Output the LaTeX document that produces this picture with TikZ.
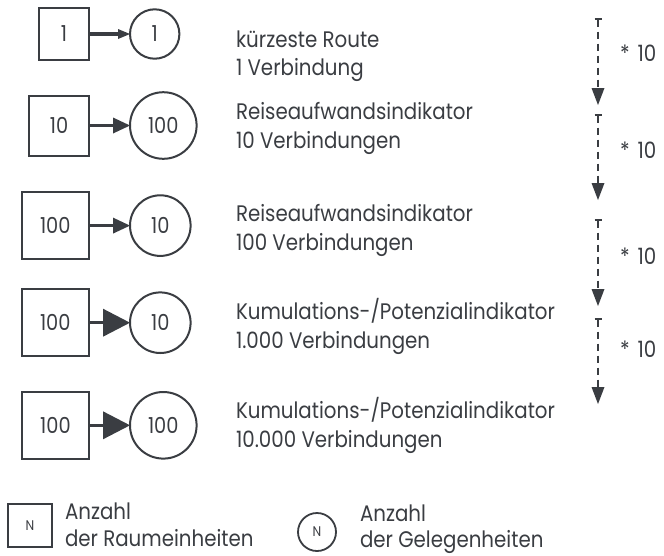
\documentclass[tikz,border=0pt]{standalone}
\usepackage{fontspec}
\setmainfont{Poppins}[FakeStretch=0.88]
\usetikzlibrary{arrows.meta}
\definecolor{ink}{RGB}{58,61,66}

\begin{document}
\begin{tikzpicture}[x=1pt,y=-1pt,
  every node/.style={text=ink, inner sep=0pt, outer sep=0pt},
  txt/.style={anchor=base west, font=\fontsize{22.5}{27}\selectfont},
  area/.style n args={2}{draw=ink, line width=2pt, rectangle,
    minimum width=#1, minimum height=#2, font=\fontsize{22}{26}\selectfont},
  opp/.style={draw=ink, line width=2pt, circle, minimum size=#1,
    font=\fontsize{22}{26}\selectfont},
  link/.style={draw=ink, line width=3.4pt},
  tipS/.style={-{Triangle[length=12pt,width=10pt,line width=0pt]}},
  tipM/.style={-{Triangle[length=17pt,width=16pt,line width=0pt]}},
  tipL/.style={-{Triangle[length=27pt,width=28pt,line width=0pt]}},
  step10/.style={draw=ink, line width=2pt, dash pattern=on 7pt off 5pt,
    {Bar[width=7pt,line width=2pt]}-{Triangle[length=17pt,width=13pt,line width=0pt]}},
  factor/.style={anchor=base west, font=\fontsize{22.5}{27}\selectfont}
]
\useasboundingbox (0,0) rectangle (664,555);

% row 1: shortest route
\node[area={50pt}{52pt}] (s1) at (64,34) {1};
\node[opp=49.4pt] (c1) at (154.7,34) {1};
\draw[link,tipS] (s1) -- (c1);
\node[txt] (a1) at (236,47) {kürzeste Route};
\node[txt] (b1) at (236,75) {1 Verbindung};

% row 2
\node[area={60pt}{60pt}] (s2) at (59,125.5) {10};
\node[opp=66.6pt] (c2) at (163.3,125.5) {100};
\draw[link,tipM] (s2) -- (c2);
\node[txt] (a2) at (236,119) {Reiseaufwandsindikator};
\node[txt] (b2) at (236,148) {10 Verbindungen};

% row 3
\node[area={67pt}{67pt}] (s3) at (55.3,225.6) {100};
\node[opp=60.6pt] (c3) at (160.3,225.6) {10};
\draw[link,tipM] (s3) -- (c3);
\node[txt] (a3) at (236,221) {Reiseaufwandsindikator};
\node[txt] (b3) at (236,250) {100 Verbindungen};

% row 4
\node[area={67pt}{67pt}] (s4) at (55.3,322.7) {100};
\node[opp=60.6pt] (c4) at (160.3,322.7) {10};
\draw[link,tipL] (s4) -- (c4);
\node[txt] (a4) at (236,319) {Kumulations-/Potenzialindikator};
\node[txt] (b4) at (236,348) {1.000 Verbindungen};

% row 5
\node[area={67pt}{67pt}] (s5) at (55.5,425.3) {100};
\node[opp=66.6pt] (c5) at (163.3,425.3) {100};
\draw[link,tipL] (s5) -- (c5);
\node[txt] (a5) at (236,418) {Kumulations-/Potenzialindikator};
\node[txt] (b5) at (236,447) {10.000 Verbindungen};

% growth factors between rows
\coordinate (t1) at (598,18);  \coordinate (e1) at (598,105);
\coordinate (t2) at (598,114); \coordinate (e2) at (598,200);
\coordinate (t3) at (598,219); \coordinate (e3) at (598,306);
\coordinate (t4) at (598,318); \coordinate (e4) at (598,404);
\draw[step10] (t1) -- (e1);
\draw[step10] (t2) -- (e2);
\draw[step10] (t3) -- (e3);
\draw[step10] (t4) -- (e4);
\node[factor] (f1) at (620,61) {*\hspace{8pt}10};
\node[factor] (f2) at (620,158) {*\hspace{8pt}10};
\node[factor] (f3) at (620,264) {*\hspace{8pt}10};
\node[factor] (f4) at (620,357) {*\hspace{8pt}10};

% legend
\node[draw=ink, line width=1.8pt, minimum width=44pt, minimum height=43pt,
  font=\fontsize{14}{16}\selectfont] (ls) at (30,525.5) {N};
\node[txt] (la1) at (65,519) {Anzahl};
\node[txt] (la2) at (65,546) {der Raumeinheiten};
\node[draw=ink, line width=1.8pt, circle, minimum size=38pt,
  font=\fontsize{14}{16}\selectfont] (lc) at (317,532) {N};
\node[txt] (lb1) at (360,521) {Anzahl};
\node[txt] (lb2) at (360,547) {der Gelegenheiten};
\end{tikzpicture}
\end{document}
